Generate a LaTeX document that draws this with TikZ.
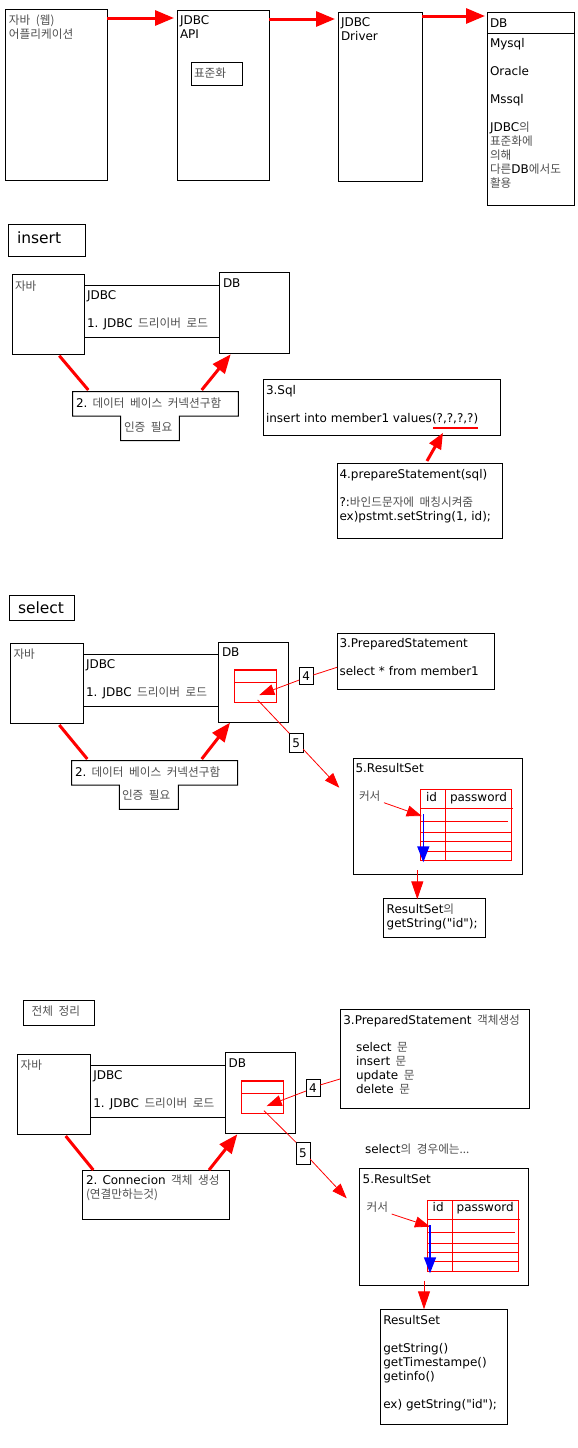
\documentclass[tikz,border=0pt]{standalone}
\usepackage{fontspec}
\setmainfont{DejaVu Sans}[Ligatures=TeXOff]
\newfontfamily\krfontfam{Noto Sans CJK KR}[Scale=0.97]
\usetikzlibrary{arrows.meta,calc}
\definecolor{krgray}{RGB}{80,80,80}
\definecolor{rd}{RGB}{255,0,0}
\definecolor{bl}{RGB}{0,0,255}
\newcommand\kr[1]{{\krfontfam\color{krgray}#1}}
\newcommand\ks{\hspace{5.5pt}}
\newcommand\fs{\fontsize{12}{14}\selectfont}
\newcommand\fl{\fontsize{15.5}{18}\selectfont}
\tikzset{
 box/.style={draw=black, line width=1pt, inner sep=0pt, outer sep=0pt, anchor=north west},
 txt/.style={anchor=north west, inner sep=0pt, outer sep=0pt, align=left, font=\fs, execute at begin node=\strut},
 bigtxt/.style={anchor=north west, inner sep=0pt, outer sep=0pt, align=left, font=\fl, execute at begin node=\strut},
 lnk/.style={draw=black, line width=1pt},
 thickarrow/.style={rd, line width=3pt, -{Triangle[length=19pt,width=15pt]}},
 thickline/.style={rd, line width=3pt},
 sqlarrow/.style={rd, line width=3pt, -{Triangle[length=16pt,width=13pt]}},
 thinarrow/.style={rd, line width=0.8pt, -{Triangle[length=15pt,width=11pt]}},
 thinline/.style={rd, line width=0.8pt},
 redgrid/.style={rd, line width=1pt},
 bluearrow/.style={bl, line width=1.5pt, -{Triangle[length=16pt,width=12pt]}},
 numbox/.style={draw=black, line width=1pt, inner sep=0pt, outer sep=0pt, font=\fs, anchor=north west, minimum width=14, minimum height=17},
}
\newcommand\bx[6][]{\node[box,#1,minimum width=#5-#3,minimum height=#6-#4] (#2) at (#3,#4) {};}
\begin{document}
\begin{tikzpicture}[x=1pt,y=-1pt]
\fill[white] (0,0) rectangle (578,1448);
\useasboundingbox (0,0) rectangle (578,1448);

% ---------------- Section 1 ----------------
\bx{a1}{5}{9}{107}{180}
\node[txt] (a1t) at (9,15.2) {\kr{자바\ks{}(웹)}\\\kr{어플리케이션}};
\bx{b1}{177}{10}{269}{180}
\node[txt] (b1t) at (180,15.5) {JDBC\\API};
\bx{b1s}{191}{62}{242}{85}
\node[txt] (b1st) at (194,67.5) {\kr{표준화}};
\bx{c1}{338}{12}{422}{181}
\node[txt] (c1t) at (341,17.5) {JDBC\\Driver};
\bx{d1}{487}{12}{574}{205}
\coordinate (d1div) at (0,33);
\draw[lnk] (d1.west |- d1div) -- (d1.east |- d1div);
\node[txt] (d1t) at (490,17.5) {DB};
\node[txt] (d1l) at (490,38.5) {Mysql\\[14pt]Oracle\\[14pt]Mssql\\[14pt]JDBC\kr{의}\\\kr{표준화에}\\\kr{의해}\\\kr{다른}DB\kr{에서도}\\\kr{활용}};
\coordinate (r1) at (0,18);
\coordinate (r2) at (0,19);
\coordinate (r3) at (0,16);
\draw[thickarrow] (a1.east |- r1) -- ($(b1.west |- r1)+(-3,0)$);
\draw[thickarrow] (b1.east |- r2) -- ($(c1.west |- r2)+(-3,0)$);
\draw[thickarrow] (c1.east |- r3) -- ($(d1.west |- r3)+(-2,0)$);

% ---------------- Section 2: insert ----------------
\bx{ins}{8}{224}{85}{256}
\node[bigtxt] (inst) at (17,231) {insert};
\bx{jav2}{12}{274}{84}{354}
\node[txt] (jav2t) at (15,280.2) {\kr{자바}};
\bx{db2}{219}{272}{289}{353}
\node[txt] (db2t) at (223,277.8) {DB};
\coordinate (b2a) at (0,285.7);
\coordinate (b2b) at (0,337.3);
\draw[lnk] (jav2.east |- b2a) -- (db2.west |- b2a);
\draw[lnk] (jav2.east |- b2b) -- (db2.west |- b2b);
\node[txt] (jd2) at (87,290.5) {JDBC\\[14pt]1. JDBC\kr{\ks{}드리이버\ks{}로드}};
\node[inner sep=0pt, outer sep=0pt, minimum width=238.3-72.7, minimum height=24.3, anchor=north west] (tb2) at (72.7,391.7) {};
\node[inner sep=0pt, outer sep=0pt, minimum width=179.3-120.7, minimum height=24.7, anchor=north west] (tb2b) at (120.7,416) {};
\draw[lnk] (tb2.north west) -- (tb2.north east) -- (tb2.south east) -- (tb2b.north east) -- (tb2b.south east) -- (tb2b.south west) -- (tb2b.north west) -- (tb2.south west) -- cycle;
\node[txt] (tb2t) at (76,397.8) {2. \kr{데이터\ks{}베이스\ks{}커넥션구함}};
\node[txt] (tb2bt) at (124,421.2) {\kr{인증\ks{}필요}};
\draw[thickline] ($(jav2.south west)+(47.3,1.7)$) -- ($(tb2.north west)+(15.6,-1.7)$);
\draw[thickarrow] ($(tb2.north west)+(129,-1.7)$) -- ($(db2.south west)+(11.7,1.3)$);
\bx{sql}{263}{379}{500}{435}
\node[txt] (sqlt) at (266,385.2) {3.Sql\\[14pt]insert into member1 values(?,?,?,?)};
\coordinate (ul1) at (433,428.3);
\coordinate (ul2) at (478,428.3);
\draw[rd, line width=2pt] (ul1) -- (ul2);
\bx{prep}{337}{463}{502}{538}
\node[txt] (prept) at (339.5,469.5) {4.prepareStatement(sql)\\[14pt]?:\kr{바인드문자에\ks{}매칭시켜줌}\\ex)pstmt.setString(1, id);};
\draw[sqlarrow] ($(prep.north west)+(90,-2)$) -- ($(ul1)+(10,4.5)$);

% ---------------- Section 3: select ----------------
\bx{sel}{9}{595}{74}{620}
\node[bigtxt] (selt) at (18,600.6) {select};
\bx{jav3}{10}{643}{83}{723}
\node[txt] (jav3t) at (13.5,648.5) {\kr{자바}};
\bx{db3}{218}{642}{288}{722}
\node[txt] (db3t) at (222,646.2) {DB};
\coordinate (b3a) at (0,654.3);
\coordinate (b3b) at (0,706.3);
\draw[lnk] (jav3.east |- b3a) -- (db3.west |- b3a);
\draw[lnk] (jav3.east |- b3b) -- (db3.west |- b3b);
\node[txt] (jd3) at (86,659.5) {JDBC\\[14pt]1. JDBC\kr{\ks{}드리이버\ks{}로드}};
\bx[draw=rd]{tb3}{234.3}{669.5}{276.7}{702.3}
\draw[rd, line width=2pt] (tb3.north west) -- (tb3.north east);
\draw[redgrid] ($(tb3.north west)+(0,13)$) -- ($(tb3.north east)+(0,13)$);
\node[inner sep=0pt, outer sep=0pt, minimum width=237.7-71.7, minimum height=24.3, anchor=north west] (tb3a) at (71.7,760.7) {};
\node[inner sep=0pt, outer sep=0pt, minimum width=178.3-119.3, minimum height=24.3, anchor=north west] (tb3b) at (119.3,785) {};
\draw[lnk] (tb3a.north west) -- (tb3a.north east) -- (tb3a.south east) -- (tb3b.north east) -- (tb3b.south east) -- (tb3b.south west) -- (tb3b.north west) -- (tb3a.south west) -- cycle;
\node[txt] (tb3at) at (75,766.2) {2. \kr{데이터\ks{}베이스\ks{}커넥션구함}};
\node[txt] (tb3bt) at (122,789.5) {\kr{인증\ks{}필요}};
\draw[thickline] ($(jav3.south west)+(49.3,2)$) -- ($(tb3a.north west)+(15.6,-1.7)$);
\draw[thickarrow] ($(tb3a.north west)+(130,-1.7)$) -- ($(db3.south west)+(12,0.7)$);
\bx{ps3}{337}{633}{494}{689}
\node[txt] (ps3t) at (339.5,638.5) {3.PreparedStatement\\[14pt]select * from member1};
\node[numbox] (n4a) at (299.3,667.7) {4};
\node[numbox, minimum height=19.4] (n5a) at (289.3,733.3) {5};
\coordinate (tip4a) at (259.3,695);
\coordinate (s5a) at (257.7,700);
\coordinate (tip5a) at (339.3,787.7);
\draw[thinline] ($(ps3.north west)+(0,34.3)$) -- ($(n4a.north east)+(0,7.3)$);
\draw[thinarrow] ($(n4a.north west)+(0,12.3)$) -- (tip4a);
\draw[thinline] (s5a) -- (n5a.north west);
\draw[thinarrow] ($(n5a.north east)+(0,16)$) -- (tip5a);
\bx{rs3}{353}{758}{522}{874}
\node[txt] (rs3t) at (355.5,762.8) {5.ResultSet};
\node[txt] (cur3) at (359,790.2) {\kr{커서}};
\bx[draw=rd]{grid3}{420.7}{789.3}{511.7}{860.3}
\draw[redgrid] ($(grid3.north west)+(25,0)$) -- ($(grid3.south west)+(25,0)$);
\draw[redgrid] ($(grid3.north west)+(0,19)$) -- ($(grid3.north east)+(1.3,19)$);
\draw[redgrid] ($(grid3.north west)+(0,31.7)$) -- ($(grid3.north east)+(-4,31.7)$);
\draw[redgrid] ($(grid3.north west)+(0,43)$) -- ($(grid3.north east)+(0,43)$);
\draw[redgrid] ($(grid3.north west)+(0,52.4)$) -- ($(grid3.north east)+(0,52.4)$);
\draw[redgrid] ($(grid3.north west)+(0,61.7)$) -- ($(grid3.north east)+(0,61.7)$);
\node[txt] (id3) at (426,791.2) {id};
\node[txt] (pw3) at (450,791.2) {password};
\coordinate (c3s) at (384,802.7);
\draw[thinarrow] (c3s) -- ($(grid3.north west)+(1,26.7)$);
\draw[bluearrow] ($(grid3.north west)+(2.6,25)$) -- ($(grid3.south west)+(2.6,2)$);
\bx{rsg}{383.3}{898.3}{485.7}{937.3}
\node[txt] (rsgt) at (386.7,903.8) {ResultSet\kr{의}\\getString("id");};
\draw[rd, line width=1pt, -{Triangle[length=18pt,width=12pt]}] ($(rs3.south west)+(64.3,-4)$) -- ($(rsg.north west)+(34,1)$);

% ---------------- Section 4 ----------------
\bx{sum}{23.3}{1000.7}{94.3}{1025}
\node[txt] (sumt) at (31.7,1005.5) {\kr{전체\ks{}정리}};
\bx{jav4}{17.3}{1054.3}{90.3}{1134}
\node[txt] (jav4t) at (20.7,1059.5) {\kr{자바}};
\bx{db4}{225.7}{1052.7}{295.3}{1133}
\node[txt] (db4t) at (228.7,1057.8) {DB};
\coordinate (b4a) at (0,1065.7);
\coordinate (b4b) at (0,1117.3);
\draw[lnk] (jav4.east |- b4a) -- (db4.west |- b4a);
\draw[lnk] (jav4.east |- b4b) -- (db4.west |- b4b);
\node[txt] (jd4) at (93.3,1070.5) {JDBC\\[14pt]1. JDBC\kr{\ks{}드리이버\ks{}로드}};
\bx[draw=rd]{tb4}{241}{1080.7}{283.3}{1113.3}
\draw[rd, line width=2pt] (tb4.north west) -- (tb4.north east);
\draw[redgrid] ($(tb4.north west)+(0,13)$) -- ($(tb4.north east)+(0,13)$);
\bx{con4}{82.7}{1170.7}{229.3}{1219}
\node[txt] (con4t) at (86,1175.2) {2. Connecion\kr{\ks{}객체\ks{}생성}\\\kr{(연결만하는것)}};
\draw[thickline] ($(jav4.south west)+(48.4,2)$) -- ($(con4.north west)+(10.6,-0.7)$);
\draw[thickarrow] ($(con4.north west)+(126.3,-0.7)$) -- ($(db4.south west)+(11.6,1.3)$);
\bx{ps4}{340}{1009}{529.3}{1108.3}
\node[txt] (ps4t) at (343.3,1014.5) {3.PreparedStatement\kr{\ks{}객체생성}};
\node[txt] (ps4l) at (356,1042.8) {select\kr{\ks{}문}\\insert\kr{\ks{}문}\\update\kr{\ks{}문}\\delete\kr{\ks{}문}};
\node[numbox] (n4b) at (306,1079.3) {4};
\node[numbox, minimum height=22] (n5b) at (296,1142.3) {5};
\coordinate (tip4b) at (266.7,1106);
\coordinate (s5b) at (264,1110.7);
\coordinate (tip5b) at (346.7,1198.3);
\draw[thinline] ($(ps4.north west)+(0,70)$) -- ($(n4b.north east)+(0,5.7)$);
\draw[thinarrow] ($(n4b.north west)+(0,11.7)$) -- (tip4b);
\draw[thinline] (s5b) -- (n5b.north west);
\draw[thinarrow] ($(n5b.north east)+(0,16.7)$) -- (tip5b);
\node[txt] (selnote) at (365,1143.8) {select\kr{의\ks{}경우에는...}};
\bx{rs4}{359.3}{1168.3}{528.3}{1285}
\node[txt] (rs4t) at (362.7,1173.5) {5.ResultSet};
\node[txt] (cur4) at (366.7,1201.2) {\kr{커서}};
\bx[draw=rd]{grid4}{427.3}{1200.3}{518.3}{1271.7}
\draw[redgrid] ($(grid4.north west)+(25,0)$) -- ($(grid4.south west)+(25,0)$);
\draw[redgrid] ($(grid4.north west)+(0,19)$) -- ($(grid4.north east)+(1.7,19)$);
\draw[redgrid] ($(grid4.north west)+(0,32)$) -- ($(grid4.north east)+(-3.3,32)$);
\draw[redgrid] ($(grid4.north west)+(0,43)$) -- ($(grid4.north east)+(0,43)$);
\draw[redgrid] ($(grid4.north west)+(0,52)$) -- ($(grid4.north east)+(0,52)$);
\draw[redgrid] ($(grid4.north west)+(0,61.4)$) -- ($(grid4.north east)+(0,61.4)$);
\node[txt] (id4) at (432.7,1201.2) {id};
\node[txt] (pw4) at (456.7,1201.2) {password};
\coordinate (c4s) at (391.7,1214);
\draw[thinarrow] (c4s) -- ($(grid4.north west)+(2.7,26.4)$);
\draw[bluearrow] ($(grid4.north west)+(2.7,24.7)$) -- ($(grid4.south west)+(2.7,1.6)$);
\bx{rsf}{380.7}{1309.3}{507.3}{1424}
\node[txt] (rsft) at (383.3,1315.2) {ResultSet\\[14pt]getString()\\getTimestampe()\\getinfo()\\[14pt]ex) getString("id");};
\coordinate (rfx) at (424,0);
\draw[rd, line width=1pt, -{Triangle[length=18pt,width=12pt]}] ($(rs4.south west)+(64.7,-4.3)$) -- (rsf.north west -| rfx);
\end{tikzpicture}
\end{document}
